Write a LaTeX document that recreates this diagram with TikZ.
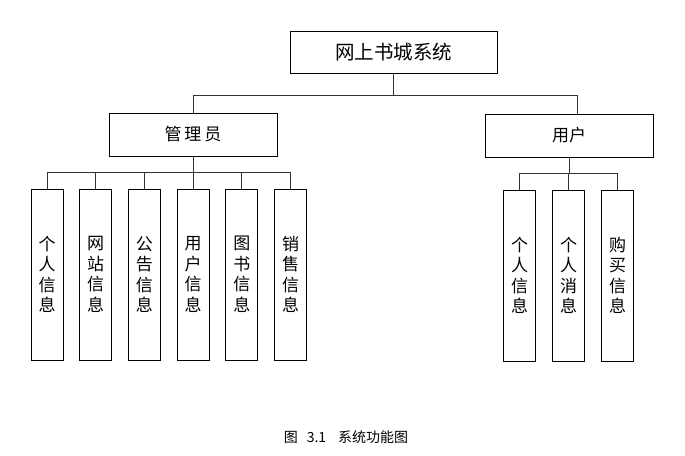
\documentclass[tikz,border=0pt]{standalone}
\usepackage{fontspec}
\setmainfont{Noto Sans CJK SC}
\usepackage{tikz}
\usetikzlibrary{calc}
\tikzset{
	topbox/.style={draw, line width=0.8pt, minimum width=207pt, minimum height=42pt, inner sep=0pt, font=\fontsize{19.5}{21}\selectfont},
	midbox/.style={draw, line width=0.8pt, minimum width=168pt, minimum height=43pt, inner sep=0pt, font=\fontsize{17}{19}\selectfont},
	leafbox/.style={draw, line width=0.8pt, minimum width=32pt, minimum height=171pt, inner sep=0pt, align=center, font=\fontsize{17}{20.5}\selectfont},
	link/.style={line width=1pt, color=black!80}
}

\begin{document}
\begin{tikzpicture}[x=1pt, y=-1pt]
			%%%%% START %%%%%
			
			\useasboundingbox (0, 0) rectangle (685, 455);
			
			\node[topbox] (sys) at (393.5, 52) {网上书城系统};
			
			\node[midbox] (admin) at (193, 134.5) {管\,理\,员};
			\node[midbox] (user) at (569, 135.5) {用户};
			
			\draw[link] (sys.south) -- ++(0, 22) -| (admin.north);
			\draw[link] (sys.south) -- ++(0, 22) -| ([xshift=8pt]user.north);
			
			\foreach \txt [count=\i] in {个\\人\\信\\息, 网\\站\\信\\息, 公\\告\\信\\息, 用\\户\\信\\息, 图\\书\\信\\息, 销\\售\\信\\息}
			{
				\node[leafbox] (a\i) at ({47 + 48.7*(\i-1)}, 274.5) {\txt};
				\draw[link] (admin.south) -- ++(0, 16) -| (a\i.north);
			}
			
			\foreach \txt [count=\i] in {个\\人\\信\\息, 个\\人\\消\\息, 购\\买\\信\\息}
			{
				\node[leafbox] (u\i) at ({519.5 + 49*(\i-1)}, 275.5) {\txt};
				\draw[link] (user.south) -- ++(0, 16) -| (u\i.north);
			}
			
			\node[font=\fontsize{14}{16}\selectfont] (cap) at (346, 437) {图\hspace{9pt}3.1\hspace{12pt}系统功能图};
			
			%%%%% END %%%%%
		\end{tikzpicture}
\end{document}
